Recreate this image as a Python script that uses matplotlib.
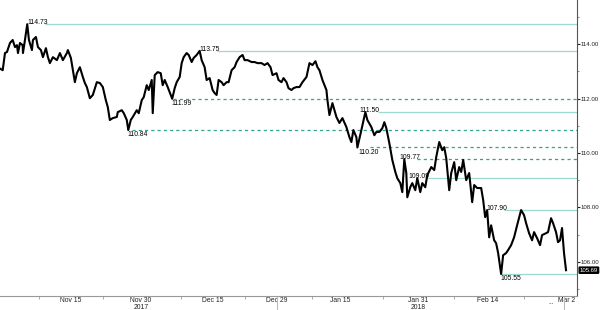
import matplotlib
matplotlib.use("Agg")
import matplotlib.pyplot as plt
from matplotlib import transforms

plt.rcParams['font.family'] = ['Liberation Sans', 'DejaVu Sans']

# price path, x in trading-time units
t = [0, 2.7, 5, 7, 10, 12.7, 15, 17, 18, 20, 22.7, 23, 25, 27.3, 29, 32, 33, 36, 38, 41,
     43, 46, 48, 50, 53, 57, 60, 63, 67, 68, 71, 73, 75, 77, 80, 83, 85, 87, 90, 93,
     97, 100, 103, 106, 108, 110, 113, 117, 118, 122, 124, 127, 128.5, 131, 133, 137, 139, 142, 144, 147,
     149, 152, 153, 155, 158, 161, 163, 165, 168, 171, 172.5, 175, 177, 180, 182, 184, 187, 189, 192, 194,
     197, 200, 202, 205, 207, 210, 213, 215, 217, 219, 222, 224, 227, 229, 232, 235, 237, 240, 243, 245,
     248, 252, 255, 258, 262, 265, 268, 271, 273, 277, 279, 282, 284, 287, 289, 292, 294, 297, 300, 303,
     307, 310, 313, 316, 318, 320, 323, 327, 328, 330, 333, 337, 340, 343, 347, 350, 352, 354, 357, 358,
     362, 366, 368, 372, 375, 377, 380, 383, 385, 387, 390, 393, 396, 398, 401, 403, 405, 407, 408, 411,
     413, 416, 418, 421, 423, 426, 428, 432, 435, 437, 440, 443, 445, 447, 450, 452, 455, 457, 460, 462,
     464, 467, 470, 473, 475, 478, 482, 484, 486, 488, 490, 492, 495, 497, 499, 502, 504, 507, 509, 512,
     515, 518, 522, 525, 527, 530, 533, 535, 538, 541, 543, 547, 549, 552, 554, 557, 559, 561, 563, 565, 567]
price = [113.10, 113.04, 113.67, 113.71, 114.04, 114.15, 113.89, 113.96, 113.67, 114.04,
         113.96, 113.67, 114.15, 114.73, 114.15, 113.78, 114.15, 114.26, 113.89, 113.78,
         113.52, 113.85, 113.52, 113.30, 113.52, 113.41, 113.67, 113.41, 113.67, 113.78,
         113.49, 113.04, 112.60, 112.93, 113.15, 112.79, 112.57, 112.42, 112.01, 112.13,
         112.60, 112.57, 112.42, 111.94, 111.68, 111.21, 111.28, 111.32, 111.50, 111.57,
         111.46, 111.21, 110.84, 111.21, 111.32, 111.57, 111.46, 111.94, 112.05, 112.49,
         112.31, 112.68, 111.46, 112.86, 112.97, 112.93, 112.49, 112.68, 112.42, 112.13,
         111.99, 112.38, 112.60, 112.79, 113.30, 113.52, 113.67, 113.60, 113.34, 113.49,
         113.60, 113.75, 113.41, 113.15, 112.68, 112.75, 112.31, 112.20, 112.13, 112.68,
         112.60, 112.49, 112.60, 112.60, 113.04, 113.15, 113.34, 113.52, 113.60, 113.41,
         113.41, 113.34, 113.34, 113.30, 113.30, 113.23, 113.30, 113.15, 112.86, 112.93,
         112.68, 112.60, 112.75, 112.60, 112.38, 112.31, 112.38, 112.42, 112.42, 112.60,
         112.79, 113.30, 113.23, 113.37, 113.15, 113.04, 112.68, 112.31, 111.94, 111.39,
         111.83, 111.32, 111.10, 111.28, 110.95, 110.58, 110.40, 110.84, 110.58, 110.20,
         110.84, 111.50, 111.21, 110.95, 110.65, 110.77, 110.77, 110.91, 111.13, 110.91,
         110.36, 109.74, 109.30, 109.07, 108.89, 108.56, 109.77, 109.26, 108.37, 108.74,
         108.89, 108.63, 109.07, 108.56, 108.89, 108.74, 109.18, 109.48, 109.37, 109.85,
         110.40, 110.10, 110.21, 109.81, 108.63, 109.26, 109.66, 109.00, 109.48, 109.30,
         109.74, 109.00, 109.26, 108.19, 108.82, 108.71, 108.71, 108.27, 107.64, 107.90,
         106.90, 107.34, 106.79, 106.68, 106.32, 105.55, 106.24, 106.32, 106.43, 106.61,
         106.90, 107.34, 107.90, 107.71, 107.42, 107.05, 106.79, 107.09, 106.87, 106.61,
         106.98, 107.05, 107.09, 107.60, 107.42, 107.09, 106.72, 106.79, 107.24, 106.32, 105.69]

# marked levels: value, where the label sits, where the line begins
lvl_above = [114.73, 113.75, 111.50, 109.77, 109.09, 107.90]
lvl_above_lab = [27, 200, 360, 400, 409, 487]
lvl_above_start = [45, 217, 379, 418, 427, 505]
lvl_above_dash = [False, False, False, True, False, False]
lvl_below = [111.99, 110.84, 110.20, 105.55]
lvl_below_lab = [172, 128, 359, 501]
lvl_below_start = [173, 132, 371, 502]
lvl_below_dash = [True, True, True, False]

date_pos = [71, 141, 213, 277, 341, 419, 488, 568]
date_lab = ['Nov 15', 'Nov 30\n2017', 'Dec 15', 'Dec 29', 'Jan 15', 'Jan 31\n2018', 'Feb 14', 'Mar 2']
tick_pos = [39, 103, 181, 245, 313, 384, 455, 525]
last = 105.69

solid_c = '#9dd9cc'
dash_c = '#2fa38e'
fs = 4.9

fig = plt.figure(figsize=(6, 3.1), dpi=100)
ax = fig.add_axes([0, 0.045, 577/600, 0.955])

for v, xl, xs, d in zip(lvl_above, lvl_above_lab, lvl_above_start, lvl_above_dash):
    ax.hlines(v, xs, 578, colors=dash_c if d else solid_c, lw=0.9,
              linestyles=(0, (2.5, 2.5)) if d else 'solid', zorder=1)
    ax.text(xl, v, '%.2f' % v, fontsize=fs, ha='left', va='baseline', zorder=3)
for v, xl, xs, d in zip(lvl_below, lvl_below_lab, lvl_below_start, lvl_below_dash):
    ax.hlines(v, xs, 578, colors=dash_c if d else solid_c, lw=0.9,
              linestyles=(0, (2.5, 2.5)) if d else 'solid', zorder=1)
    ax.text(xl, v - 0.05, '%.2f' % v, fontsize=fs, ha='left', va='top', zorder=3)

ax.plot(t, price, color='black', lw=1.5, zorder=2)

ax.set_xlim(0, 578)
ax.set_ylim(104.74, 115.62)

for s in ['top', 'left']:
    ax.spines[s].set_visible(False)
ax.spines['right'].set_color('#555555')
ax.spines['bottom'].set_color('#999999')
ax.spines['right'].set_linewidth(0.8)
ax.spines['bottom'].set_linewidth(0.8)

ax.yaxis.tick_right()
ax.set_yticks([106, 108, 110, 112, 114])
ax.set_yticklabels(['106.00', '108.00', '110.00', '112.00', '114.00'])
ax.set_yticks([105, 107, 109, 111, 113, 115], minor=True)
ax.tick_params(axis='y', which='major', length=2, width=0.8, pad=0.5, labelsize=4.4, colors='#222222')
ax.tick_params(axis='y', which='minor', length=1.5, width=0.6, colors='#777777')

ax.set_xticks(date_pos)
ax.set_xticklabels(date_lab, linespacing=0.9)
ax.set_xticks(tick_pos, minor=True)
ax.tick_params(axis='x', which='major', length=0, pad=1.0, labelsize=fs, colors='#222222')
ax.tick_params(axis='x', which='minor', length=2, width=0.6, colors='#999999')

trans = transforms.blended_transform_factory(ax.transData, ax.transAxes)
for xp in [277, 565]:
    ax.plot([xp, xp], [0, -0.045], transform=trans, color='#bbbbbb', lw=0.8, clip_on=False)
ax.text(552, -0.01, '...', transform=trans, fontsize=fs, ha='center', va='top', color='#333333')

ax.annotate('%.2f' % last, xy=(1.0, last), xycoords=('axes fraction', 'data'),
            xytext=(2.0, 0), textcoords='offset points', fontsize=4.3, color='white',
            va='center', ha='left',
            bbox=dict(boxstyle='round,pad=0.1', fc='black', ec='black'))

fig.savefig('out.png', dpi=100)
